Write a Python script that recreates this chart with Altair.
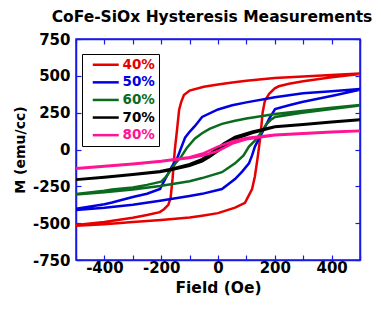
import altair as alt
import pandas as pd

series_names = ["40%", "50%", "60%", "70%", "80%"]
series_colors = ["#e60000", "#0000e0", "#0a6b1e", "#000000", "#ff1493"]

# descending-field branch (H from +500 to -500)
H_40_dn = [500, 400, 300, 200, 100, 50, 0, -50, -100, -120, -130, -137, -145, -152, -160, -167, -175, -190, -205, -250, -300, -400, -500]
M_40_dn = [515, 506, 496, 485, 466, 454, 441, 426, 400, 370, 320, 268, 120, 0, -200, -330, -375, -405, -425, -445, -463, -492, -512]
# ascending-field branch (H from -500 to +500)
H_40_up = [-500, -400, -300, -200, -100, -56, 0, 60, 95, 120, 130, 140, 150, 157, 165, 180, 200, 214, 250, 300, 400, 500]
M_40_up = [-518, -508, -492, -479, -462, -449, -432, -395, -362, -268, -181, -50, 100, 250, 330, 378, 415, 429, 446, 463, 490, 512]

H_50_dn = [500, 400, 300, 200, 100, 50, 0, -56, -81, -100, -116, -130, -144, -162, -186, -204, -250, -300, -373, -400, -500]
M_50_dn = [410, 396, 382, 355, 320, 300, 272, 221, 160, 120, 80, 10, -60, -114, -201, -268, -300, -322, -360, -372, -402]
H_50_up = [-500, -400, -300, -204, -100, -56, 14, 60, 85, 109, 120, 130, 148, 165, 180, 201, 250, 296, 412, 500]
M_50_up = [-410, -395, -375, -348, -315, -301, -268, -201, -150, -94, -40, 20, 87, 150, 208, 275, 300, 322, 368, 405]

H_60_dn = [500, 400, 296, 201, 100, 60, 14, -30, -56, -81, -110, -130, -150, -170, -185, -200, -250, -300, -373, -400, -500]
M_60_dn = [302, 283, 261, 241, 210, 195, 174, 140, 110, 75, 10, -50, -95, -150, -190, -218, -240, -258, -272, -280, -302]
H_60_up = [-500, -400, -300, -204, -100, -56, 14, 60, 90, 109, 130, 150, 170, 185, 201, 296, 400, 500]
M_60_up = [-305, -290, -272, -248, -215, -194, -154, -94, -40, 20, 60, 110, 170, 200, 221, 250, 275, 298]

H_70_dn = [500, 400, 300, 200, 120, 60, 20, 0, -30, -56, -100, -162, -204, -300, -400, -500]
M_70_dn = [203, 188, 172, 157, 120, 85, 40, 10, -30, -65, -100, -130, -148, -168, -186, -203]
H_70_up = [-500, -400, -300, -204, -162, -100, -56, -30, 0, 20, 60, 120, 200, 300, 400, 500]
M_70_up = [-206, -190, -172, -152, -138, -110, -80, -50, -10, 20, 70, 112, 152, 168, 185, 200]

H_80_dn = [500, 400, 300, 200, 100, 50, 0, -50, -100, -160, -200, -300, -400, -500]
M_80_dn = [128, 120, 110, 100, 78, 55, 20, -25, -52, -68, -78, -96, -112, -128]
H_80_up = [-500, -400, -300, -200, -160, -100, -50, 0, 50, 100, 200, 300, 400, 500]
M_80_up = [-130, -115, -100, -82, -72, -58, -40, -10, 40, 70, 96, 107, 117, 126]

x_tick_values = [-500, -400, -300, -200, -100, 0, 100, 200, 300, 400, 500]
y_tick_values = [-750, -500, -250, 0, 250, 500, 750]

branches = [
    (H_40_dn, M_40_dn, H_40_up, M_40_up),
    (H_50_dn, M_50_dn, H_50_up, M_50_up),
    (H_60_dn, M_60_dn, H_60_up, M_60_up),
    (H_70_dn, M_70_dn, H_70_up, M_70_up),
    (H_80_dn, M_80_dn, H_80_up, M_80_up),
]

rows = []
for name, (hd, md, hu, mu) in zip(series_names, branches):
    i = 0
    for h, m in list(zip(hd, md)) + list(zip(hu, mu)):
        rows.append({"series": name, "H": h, "M": m, "idx": i})
        i += 1
df = pd.DataFrame(rows)

BLUE = "#1a1ae6"
FONT = "DejaVu Sans"
inward = alt.ExprRef(expr="-5")

xscale = alt.Scale(domain=[-500, 500], nice=False, zero=False)
yscale = alt.Scale(domain=[-750, 750], nice=False, zero=False)

common_axis = dict(
    grid=False, domainColor=BLUE, domainWidth=1.5, tickColor=BLUE, tickWidth=1.2,
    tickSize=inward, labelFont=FONT, labelFontSize=15, labelFontWeight="bold",
    labelColor="black", titleFont=FONT, titleFontWeight="bold", titleColor="black",
)

lines = alt.Chart(df).mark_line(strokeWidth=2.5, clip=True).encode(
    x=alt.X("H:Q", scale=xscale, axis=alt.Axis(
        orient="bottom", values=x_tick_values,
        labelExpr="datum.value % 200 == 0 && abs(datum.value) < 500 ? '' + datum.value : ''",
        labelPadding=5, title="Field (Oe)", titleFontSize=15.5, titlePadding=5,
        labelOverlap=False, **common_axis)),
    y=alt.Y("M:Q", scale=yscale, axis=alt.Axis(
        orient="left", values=y_tick_values, labelExpr="'' + datum.value",
        labelPadding=11, title="M (emu/cc)", titleFontSize=14, titlePadding=5,
        labelOverlap=False, **common_axis)),
    color=alt.Color("series:N", scale=alt.Scale(domain=series_names, range=series_colors),
        legend=alt.Legend(
            title=None, orient="none", legendX=6, legendY=15,
            strokeColor="black", fillColor="white", padding=4,
            symbolType="M-1,0H4.2", symbolSize=100, symbolStrokeWidth=2.5, symbolOffset=5,
            labelFont=FONT, labelFontSize=13.5, labelFontWeight="bold", labelOffset=18,
            rowPadding=2.6,
            labelColor=alt.ExprRef(expr="scale('color', datum.value)"),
        )),
    order="idx:Q",
)

frame = alt.Chart(df).mark_point(opacity=0, size=1).encode(
    x=alt.X("H:Q", scale=xscale, axis=alt.Axis(
        orient="top", values=x_tick_values, labels=False, title=None, **common_axis)),
    y=alt.Y("M:Q", scale=yscale, axis=alt.Axis(
        orient="right", values=y_tick_values, labels=False, title=None, **common_axis)),
)

chart = alt.layer(lines, frame).resolve_scale(x="independent", y="independent").properties(
    width=284, height=221,
    title=alt.TitleParams("CoFe-SiOx Hysteresis Measurements", font=FONT, fontSize=15.5,
                          fontWeight="bold", color="black", anchor="middle", offset=7, dx=-6),
    padding={"left": 5, "top": 1, "right": 0, "bottom": 0},
).configure_view(stroke=BLUE, strokeWidth=1.5)

chart.save("out.html", embed_options={"renderer": "svg", "actions": False})
